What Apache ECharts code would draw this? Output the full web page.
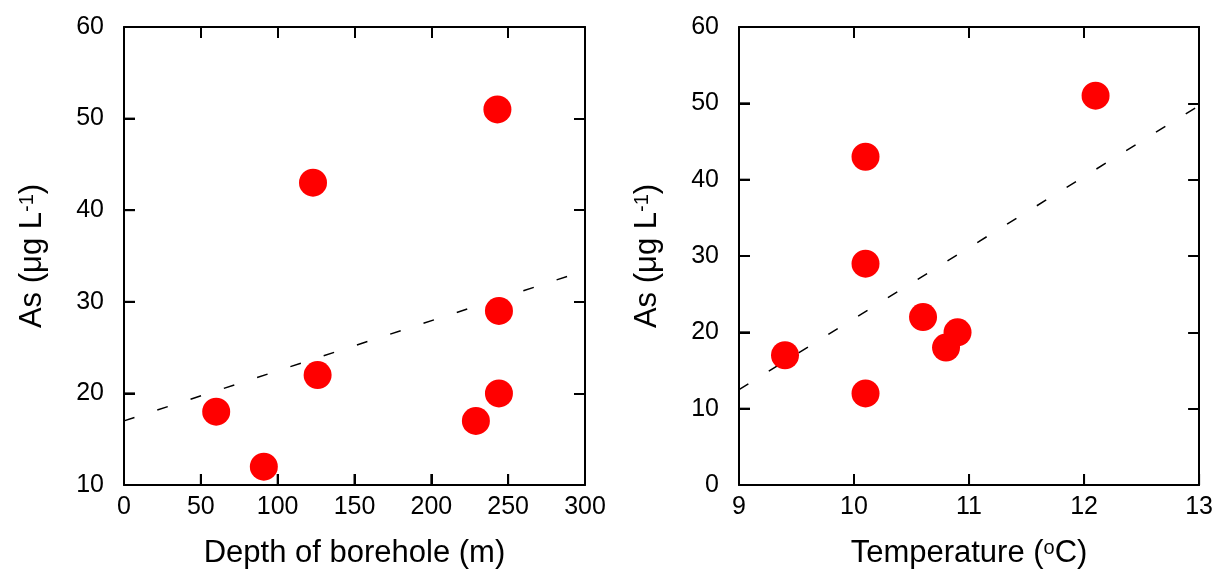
<!DOCTYPE html>
<html>
<head>
<meta charset="utf-8">
<script src="https://cdn.jsdelivr.net/npm/echarts@6/dist/echarts.min.js"></script>
<style>html,body{margin:0;padding:0;background:#fff;}#c{width:1216px;height:574px;}</style>
</head>
<body>
<div id="c"></div>
<script>
// Left panel: As vs depth of borehole
var depth = [60, 91, 123, 126, 229, 243, 244, 244];
var asDepth = [18, 12, 43, 22, 17, 51, 29, 20];
var fitDepthX = [0, 300];
var fitDepthY = [17, 33.4];
// Right panel: As vs temperature
var temp = [9.4, 10.1, 10.1, 10.1, 10.6, 10.8, 10.9, 12.1];
var asTemp = [17, 43, 29, 12, 22, 18, 20, 51];
var fitTempX = [9, 13];
var fitTempY = [12.5, 49.7];
// Axis ranges / ticks
var depthTicks = [0, 300, 50];
var tempTicks = [9, 13, 1];
var asLeftTicks = [10, 60, 10];
var asRightTicks = [0, 60, 10];
var depthTickVals = [0, 50, 100, 150, 200, 250, 300];
var tempTickVals = [9, 10, 11, 12, 13];
var asLeftTickVals = [10, 20, 30, 40, 50, 60];
var asRightTickVals = [0, 10, 20, 30, 40, 50, 60];

function zip(a, b) { return a.map(function (v, i) { return [v, b[i]]; }); }

var FONT = '"Liberation Sans", Arial, sans-serif';
var TICK = 11;
function axisLine() { return { show: true, onZero: false, lineStyle: { color: '#000', width: 2 } }; }
function axisTick(show) { return { show: show, inside: true, length: TICK, lineStyle: { color: '#000', width: 2 } }; }
function rich() {
  return {
    a: { fontSize: 31, fontFamily: FONT, color: '#000' },
    s: { fontSize: 20, fontFamily: FONT, color: '#000', verticalAlign: 'top' }
  };
}

function xAx(grid, t, name, pos) {
  var lab = pos === 'bottom';
  return {
    type: 'value', gridIndex: grid, position: pos, min: t[0], max: t[1], interval: t[2],
    axisLine: axisLine(), axisTick: axisTick(true), splitLine: { show: false },
    axisLabel: { show: lab, margin: 10, fontSize: 25, fontFamily: FONT, color: '#000' },
    name: lab ? name : '', nameLocation: 'middle', nameGap: 53,
    nameTextStyle: { rich: rich() }
  };
}
function yAx(grid, t, name, pos) {
  var lab = pos === 'left';
  return {
    type: 'value', gridIndex: grid, position: pos, min: t[0], max: t[1], interval: t[2],
    axisLine: axisLine(), axisTick: axisTick(true), splitLine: { show: false },
    axisLabel: { show: lab, margin: 20, fontSize: 25, fontFamily: FONT, color: '#000' },
    name: lab ? name : '', nameLocation: 'middle', nameGap: 76, nameRotate: 90,
    nameTextStyle: { rich: rich() }
  };
}

// Inward ticks on bottom / left edges, placed through the axes' scales (own layer on top)
function tickSeries(xi, yi, vals, other, dir) {
  return {
    type: 'custom', xAxisIndex: xi, yAxisIndex: yi, clip: false, silent: true,
    zlevel: 1, z: 10,
    data: vals.map(function (v) { return dir === 'x' ? [v, other] : [other, v]; }),
    renderItem: function (params, api) {
      var p = api.coord([api.value(0), api.value(1)]);
      var shape = dir === 'x'
        ? { x1: p[0], y1: p[1], x2: p[0], y2: p[1] - TICK }
        : { x1: p[0], y1: p[1], x2: p[0] + TICK, y2: p[1] };
      return { type: 'line', shape: shape, style: { stroke: '#000', lineWidth: 2 } };
    }
  };
}

var yName = '{a|As (μg L}{s|-1}{a|)}';
function dashStyle() { return { color: '#000', width: 1.5, type: [11, 24] }; }

var option = {
  animation: false,
  backgroundColor: '#fff',
  grid: [
    { left: 124, right: 631, top: 27, bottom: 86 },
    { left: 739, right: 16, top: 27, bottom: 86 }
  ],
  xAxis: [
    xAx(0, depthTicks, '{a|Depth of borehole (m)}', 'bottom'),
    xAx(0, depthTicks, '', 'top'),
    xAx(1, tempTicks, '{a|Temperature (}{s|o}{a|C)}', 'bottom'),
    xAx(1, tempTicks, '', 'top')
  ],
  yAxis: [
    yAx(0, asLeftTicks, yName, 'left'),
    yAx(0, asLeftTicks, '', 'right'),
    yAx(1, asRightTicks, yName, 'left'),
    yAx(1, asRightTicks, '', 'right')
  ],
  series: [
    { type: 'line', xAxisIndex: 0, yAxisIndex: 0, data: zip(fitDepthX, fitDepthY),
      showSymbol: false, symbol: 'none', lineStyle: dashStyle(), z: 1, silent: true },
    { type: 'scatter', xAxisIndex: 0, yAxisIndex: 0, data: zip(depth, asDepth),
      symbolSize: 28, itemStyle: { color: '#ff0000', opacity: 1 }, z: 2 },
    { type: 'line', xAxisIndex: 2, yAxisIndex: 2, data: zip(fitTempX, fitTempY),
      showSymbol: false, symbol: 'none', lineStyle: dashStyle(), z: 1, silent: true },
    { type: 'scatter', xAxisIndex: 2, yAxisIndex: 2, data: zip(temp, asTemp),
      symbolSize: 28, itemStyle: { color: '#ff0000', opacity: 1 }, z: 2 },
    tickSeries(0, 0, depthTickVals, asLeftTicks[0], 'x'),
    tickSeries(0, 0, asLeftTickVals, depthTicks[0], 'y'),
    tickSeries(2, 2, tempTickVals, asRightTicks[0], 'x'),
    tickSeries(2, 2, asRightTickVals, tempTicks[0], 'y')
  ]
};
var chart = echarts.init(document.getElementById('c'), null, { renderer: 'canvas' });
chart.setOption(option);
</script>
</body>
</html>
